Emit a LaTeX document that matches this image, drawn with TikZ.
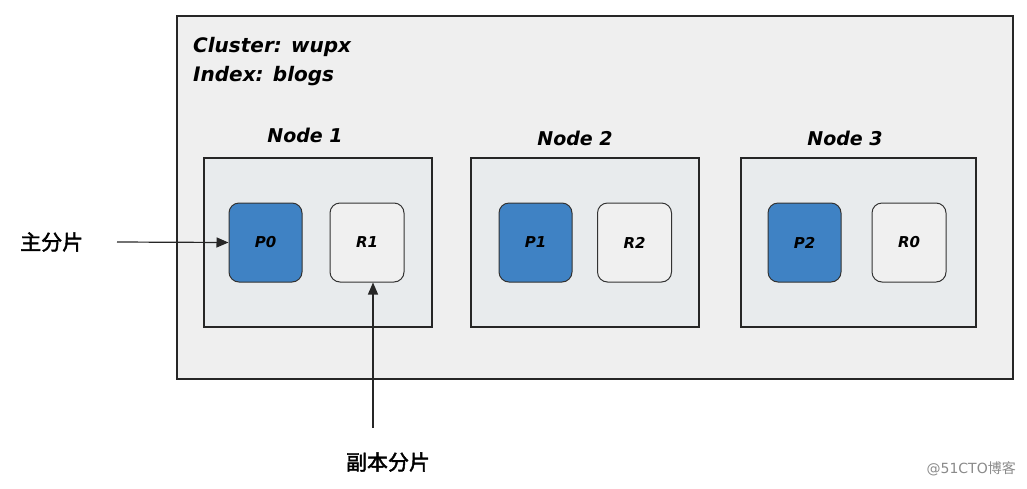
\documentclass[tikz,border=0pt]{standalone}
\usepackage{fontspec}
\setmainfont{DejaVu Sans}
\newfontfamily\cjk{Noto Sans CJK SC}
\newfontfamily\cjkb[FakeBold=2]{Noto Sans CJK SC}
\usetikzlibrary{arrows.meta}
\definecolor{outerfill}{HTML}{EFEFEF}
\definecolor{nodefill}{HTML}{E8EBED}
\definecolor{pfill}{HTML}{3F82C4}
\definecolor{rfill}{HTML}{F0F0F0}
\definecolor{wm}{HTML}{8A8A8A}
\tikzset{
  cluster/.style={draw=black!85, line width=1.8pt, fill=outerfill},
  nodebox/.style={draw=black!85, line width=1.8pt, fill=nodefill},
  primary/.style={draw=black!80, line width=1pt, fill=pfill, rounded corners=10pt, minimum width=73pt, minimum height=79pt, inner sep=0pt, font=\fontsize{15}{17}\selectfont\bfseries\itshape},
  replica/.style={draw=black!80, line width=1pt, fill=rfill, rounded corners=10pt, minimum width=74pt, minimum height=79pt, inner sep=0pt, font=\fontsize{15}{17}\selectfont\bfseries\itshape},
  title/.style={font=\fontsize{19}{21}\selectfont\bfseries\itshape, inner sep=0pt},
  lbl/.style={font=\fontsize{21}{24}\selectfont\cjkb, inner sep=0pt},
  conn/.style={-{Triangle[length=12pt,width=10pt]}, line width=1.2pt, black!85}
}
\begin{document}
\begin{tikzpicture}[x=1pt,y=-1pt]
\useasboundingbox (0,0) rectangle (1027,488);
\draw[cluster] (177,16) rectangle (1013,379);
\node[anchor=west, align=left, font=\fontsize{20}{29}\selectfont\bfseries\itshape, inner sep=0pt] (info) at (193,62) {Cluster: wupx\\Index: blogs};
\draw[nodebox] (204,158) rectangle (432,327);
\draw[nodebox] (471,158) rectangle (699,327);
\draw[nodebox] (741,158) rectangle (976,327);
\node[title] (n1) at (305,135) {Node 1};
\node[title] (n2) at (575,138) {Node 2};
\node[title] (n3) at (845,138) {Node 3};
\node[primary] (p0) at (265.5,242.5) {P0};
\node[replica] (r1) at (367,242.5) {R1};
\node[primary] (p1) at (535.5,242.5) {P1};
\node[replica] (r2) at (634.5,242.5) {R2};
\node[primary] (p2) at (804.5,242.5) {P2};
\node[replica] (r0) at (909,242.5) {R0};
\node[lbl, anchor=west] (zhu) at (20,242) {主分片};
\coordinate (zs) at (117,242);
\draw[conn] (zs) -- (p0.west);
\node[lbl] (fu) at (388,462) {副本分片};
\coordinate (fs) at (373,428);
\draw[conn] (fs) -- (r1.south -| fs);
\node[anchor=east, inner sep=0pt, text=wm, font=\fontsize{14}{16}\selectfont] (wmk) at (1016,469) {@51CTO{\cjk 博客}};
\end{tikzpicture}
\end{document}
